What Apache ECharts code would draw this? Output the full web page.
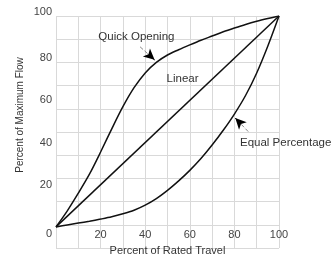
<!DOCTYPE html>
<html>
<head>
<meta charset="utf-8">
<script src="https://cdn.jsdelivr.net/npm/echarts@6/dist/echarts.min.js"></script>
<style>
  html, body { margin: 0; padding: 0; background: #fff; }
  #chart { width: 333px; height: 259px; }
</style>
</head>
<body>
<div id="chart"></div>
<script>
// valve characteristics
var quickX = [0, 5, 10, 15, 20, 25, 30, 35, 40, 45, 50, 55, 60, 65, 70, 75, 80, 85, 90, 95, 100];
var quickY = [0, 7.5, 16, 25, 35.5, 46.5, 57, 66, 73, 78, 81.5, 84, 86.3, 88.5, 90.5, 92.5, 94.3, 96, 97.5, 98.8, 100];

var linearX = [0, 100];
var linearY = [0, 100];

var equalX = [0, 5, 10, 15, 20, 25, 30, 35, 40, 45, 50, 55, 60, 65, 70, 75, 80, 85, 90, 95, 100];
var equalY = [0, 0.9, 1.8, 2.7, 3.7, 4.8, 6.2, 7.9, 10.3, 13.4, 17.3, 21.8, 26.8, 32.4, 38.8, 45.8, 53.5, 62.3, 73, 85.8, 100];

var xTicks = [20, 40, 60, 80, 100];
var yTicks = [0, 20, 40, 60, 80, 100];

function pairs(xs, ys) {
    var out = [];
    for (var i = 0; i < xs.length; i++) {
        out.push([xs[i], ys[i]]);
    }
    return out;
}

var font = 'Liberation Sans, Arial, sans-serif';
var gridColor = '#d9d9d9';

var chartDom = document.getElementById('chart');
var myChart = echarts.init(chartDom);
var option;

// arrow: grey shaft plus small black head at the tip
function arrow(from, to) {
    var dx = to[0] - from[0], dy = to[1] - from[1];
    var near = [to[0] - dx * 0.12, to[1] - dy * 0.12];
    return [
        [{ coord: from, lineStyle: { color: '#888', width: 1 }, symbol: 'none' },
         { coord: to, symbol: 'none' }],
        [{ coord: near, lineStyle: { color: '#000', width: 1 }, symbol: 'none' },
         { coord: to, symbol: 'arrow', symbolSize: [8, 11] }]
    ];
}

function note(text, at) {
    return {
        coord: at,
        symbol: 'circle',
        symbolSize: 0,
        label: {
            show: true,
            formatter: text,
            position: 'inside',
            align: 'left',
            color: '#333',
            fontFamily: font,
            fontSize: 11.5
        }
    };
}

var curveStyle = { color: '#111', width: 1.5 };

option = {
    backgroundColor: '#fff',
    animation: false,
    grid: { left: 56, right: 54, top: 16, bottom: 11, outerBoundsMode: 'none', containLabel: false },
    xAxis: {
        type: 'value',
        min: 0,
        max: 100,
        interval: 10,
        name: 'Percent of Rated Travel',
        nameLocation: 'middle',
        nameGap: 3,
        nameMoveOverlap: false,
        nameTextStyle: { color: '#333', fontFamily: font, fontSize: 11, verticalAlign: 'middle' },
        axisLine: { show: false },
        axisTick: { show: false },
        splitLine: { show: true, lineStyle: { color: gridColor } },
        axisLabel: {
            inside: true,
            margin: 8,
            color: '#444',
            fontFamily: font,
            fontSize: 11,
            formatter: function (v) {
                return xTicks.indexOf(v) >= 0 ? String(v) : '';
            }
        }
    },
    yAxis: [{
        // only for the grid lines, 10 rows
        type: 'value',
        min: 0,
        max: 10,
        interval: 1,
        position: 'left',
        axisLine: { show: false },
        axisTick: { show: false },
        axisLabel: { show: false },
        splitLine: { show: true, lineStyle: { color: gridColor } }
    }, {
        type: 'value',
        min: -10,
        max: 100,
        interval: 10,
        position: 'left',
        name: 'Percent of Maximum Flow',
        nameLocation: 'middle',
        nameGap: 31,
        nameMoveOverlap: false,
        nameTextStyle: { color: '#333', fontFamily: font, fontSize: 10, padding: [0, 0, 0, 34] },
        axisLine: { show: false },
        axisTick: { show: false },
        splitLine: { show: false },
        axisLabel: {
            margin: 4,
            color: '#444',
            fontFamily: font,
            fontSize: 11,
            formatter: function (v) {
                if (v === 0) return '{z|0}';
                if (v === 100) return '{t|100}';
                return yTicks.indexOf(v) >= 0 ? String(v) : '';
            },
            rich: {
                z: { padding: [14, 0, 0, 0], color: '#444', fontFamily: font, fontSize: 11 },
                t: { padding: [0, 0, 8, 0], color: '#444', fontFamily: font, fontSize: 11 }
            }
        }
    }],
    series: [{
        name: 'Quick Opening',
        type: 'line',
        yAxisIndex: 1,
        data: pairs(quickX, quickY),
        smooth: 0.3,
        showSymbol: false,
        lineStyle: curveStyle,
        markPoint: { data: [note('Quick Opening', [19, 90.2])] },
        markLine: { silent: true, symbol: 'none', data: arrow([37.7, 85.4], [44.2, 79.2]) }
    }, {
        name: 'Linear',
        type: 'line',
        yAxisIndex: 1,
        data: pairs(linearX, linearY),
        showSymbol: false,
        lineStyle: curveStyle,
        markPoint: { data: [note('Linear', [49.6, 70])] }
    }, {
        name: 'Equal Percentage',
        type: 'line',
        yAxisIndex: 1,
        data: pairs(equalX, equalY),
        smooth: 0.3,
        showSymbol: false,
        lineStyle: curveStyle,
        markPoint: { data: [note('Equal Percentage', [82.5, 40.1])] },
        markLine: { silent: true, symbol: 'none', data: arrow([86.2, 45.2], [80.4, 51.6]) }
    }]
};

option && myChart.setOption(option);
</script>
</body>
</html>
